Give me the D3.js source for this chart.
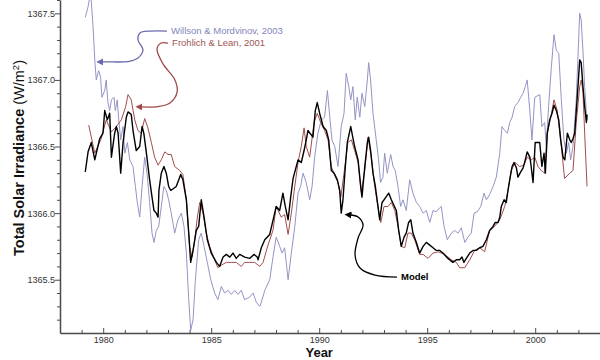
<!DOCTYPE html>
<html><head><meta charset="utf-8">
<script src="https://cdn.jsdelivr.net/npm/d3@7/dist/d3.min.js"></script>
<style>
html,body{margin:0;padding:0;background:#fff;}
svg{display:block;font-family:"Liberation Sans",Arial,sans-serif;}
</style></head>
<body>
<svg id="chart" width="600" height="360"></svg>
<script>
// ---------------- DATA ----------------
const xMajorTicks = [1980, 1985, 1990, 1995, 2000];
const yMajorTicks = [1365.5, 1366.0, 1366.5, 1367.0, 1367.5];
const seriesNames = ["Willson & Mordvinov, 2003", "Frohlich & Lean, 2001", "Model"];

// Model (black) [year, W/m2]
const modelSeries = [
[1979.17,1366.31],[1979.30,1366.46],[1979.45,1366.53],[1979.61,1366.40],[1979.84,1366.56],[1979.99,1366.60],
[1980.07,1366.77],[1980.19,1366.70],[1980.30,1366.75],[1980.38,1366.42],[1980.53,1366.60],[1980.61,1366.65],
[1980.69,1366.60],[1980.81,1366.30],[1980.92,1366.53],[1981.07,1366.72],[1981.15,1366.76],[1981.30,1366.74],
[1981.38,1366.62],[1981.53,1366.47],[1981.69,1366.50],[1981.80,1366.65],[1981.88,1366.60],[1982.00,1366.45],
[1982.15,1366.25],[1982.26,1366.12],[1982.35,1366.02],[1982.46,1366.00],[1982.54,1365.97],[1982.58,1366.17],
[1982.69,1366.30],[1982.81,1366.35],[1982.92,1366.30],[1983.03,1366.20],[1983.13,1366.17],[1983.38,1366.20],
[1983.59,1366.29],[1983.69,1366.25],[1983.85,1366.10],[1983.96,1365.85],[1984.05,1365.63],[1984.16,1365.72],
[1984.31,1365.87],[1984.42,1365.90],[1984.54,1366.10],[1984.67,1365.97],[1984.82,1365.80],[1985.00,1365.70],
[1985.24,1365.63],[1985.39,1365.60],[1985.55,1365.67],[1985.70,1365.69],[1985.86,1365.67],[1986.01,1365.70],
[1986.16,1365.66],[1986.32,1365.69],[1986.55,1365.67],[1986.78,1365.66],[1986.98,1365.69],[1987.13,1365.67],
[1987.17,1365.65],[1987.32,1365.74],[1987.48,1365.80],[1987.71,1365.84],[1988.01,1366.05],[1988.17,1366.02],
[1988.32,1366.15],[1988.43,1366.05],[1988.56,1365.95],[1988.68,1366.12],[1988.79,1366.26],[1989.02,1366.40],
[1989.17,1366.38],[1989.30,1366.47],[1989.40,1366.55],[1989.48,1366.62],[1989.71,1366.57],[1989.82,1366.77],
[1989.91,1366.83],[1990.02,1366.75],[1990.18,1366.65],[1990.33,1366.62],[1990.44,1366.55],[1990.56,1366.32],
[1990.69,1366.30],[1990.84,1366.25],[1990.95,1366.17],[1991.02,1366.00],[1991.10,1366.10],[1991.21,1366.35],
[1991.30,1366.53],[1991.46,1366.65],[1991.64,1366.50],[1991.80,1366.40],[1991.92,1366.20],[1991.98,1366.12],
[1992.11,1366.35],[1992.23,1366.53],[1992.29,1366.57],[1992.38,1366.47],[1992.49,1366.30],[1992.60,1366.20],
[1992.72,1366.05],[1992.80,1365.95],[1992.91,1366.08],[1993.00,1366.10],[1993.22,1366.15],[1993.34,1366.10],
[1993.57,1366.02],[1993.68,1365.87],[1993.80,1365.75],[1993.93,1365.82],[1994.03,1365.85],[1994.14,1365.93],
[1994.24,1365.95],[1994.34,1365.85],[1994.50,1365.78],[1994.65,1365.70],[1994.81,1365.75],[1994.96,1365.78],
[1995.12,1365.76],[1995.27,1365.74],[1995.42,1365.72],[1995.58,1365.72],[1995.73,1365.70],[1995.96,1365.66],
[1996.19,1365.63],[1996.35,1365.65],[1996.50,1365.65],[1996.61,1365.67],[1996.70,1365.63],[1996.81,1365.66],
[1996.97,1365.70],[1997.12,1365.72],[1997.27,1365.72],[1997.43,1365.74],[1997.58,1365.75],[1997.74,1365.80],
[1997.89,1365.87],[1998.05,1365.90],[1998.15,1365.93],[1998.28,1365.93],[1998.36,1365.97],[1998.43,1366.05],
[1998.56,1366.10],[1998.66,1366.08],[1998.74,1366.17],[1998.82,1366.25],[1998.93,1366.35],[1999.02,1366.38],
[1999.13,1366.34],[1999.20,1366.27],[1999.33,1366.31],[1999.44,1366.34],[1999.54,1366.40],[1999.63,1366.46],
[1999.75,1366.42],[1999.79,1366.38],[1999.90,1366.23],[2000.00,1366.53],[2000.21,1366.53],[2000.31,1366.35],
[2000.41,1366.45],[2000.47,1366.30],[2000.56,1366.60],[2000.67,1366.70],[2000.78,1366.75],[2000.87,1366.81],
[2000.98,1366.77],[2001.09,1366.70],[2001.18,1366.55],[2001.29,1366.42],[2001.37,1366.40],[2001.49,1366.60],
[2001.60,1366.55],[2001.67,1366.53],[2001.75,1366.56],[2001.83,1366.60],[2001.98,1366.95],[2002.06,1367.15],
[2002.13,1367.13],[2002.21,1366.95],[2002.29,1366.80],[2002.37,1366.68],[2002.40,1366.74]
];

// Frohlich & Lean, 2001 (red)
const frohlichSeries = [
[1979.33,1366.66],[1979.61,1366.45],[1979.91,1366.56],[1980.14,1366.70],[1980.38,1366.61],[1980.61,1366.65],
[1980.84,1366.70],[1981.04,1366.80],[1981.15,1366.89],[1981.30,1366.85],[1981.46,1366.70],[1981.61,1366.62],
[1981.76,1366.60],[1981.92,1366.71],[1982.07,1366.64],[1982.23,1366.53],[1982.38,1366.42],[1982.54,1366.36],
[1982.69,1366.40],[1982.85,1366.46],[1983.00,1366.44],[1983.15,1366.44],[1983.31,1366.35],[1983.54,1366.32],
[1983.69,1366.29],[1983.85,1366.10],[1984.00,1365.75],[1984.11,1365.67],[1984.24,1365.80],[1984.36,1365.97],
[1984.47,1366.08],[1984.62,1366.00],[1984.77,1365.85],[1984.93,1365.75],[1985.16,1365.65],[1985.31,1365.59],
[1985.47,1365.61],[1985.70,1365.63],[1985.93,1365.63],[1986.16,1365.63],[1986.39,1365.60],[1986.55,1365.63],
[1986.78,1365.63],[1987.01,1365.63],[1987.25,1365.60],[1987.40,1365.63],[1987.63,1365.76],[1987.86,1365.87],
[1988.01,1366.05],[1988.24,1365.97],[1988.40,1365.99],[1988.56,1365.84],[1988.71,1366.00],[1988.87,1366.20],
[1989.02,1366.38],[1989.17,1366.50],[1989.30,1366.64],[1989.40,1366.50],[1989.56,1366.42],[1989.76,1366.68],
[1989.91,1366.75],[1990.07,1366.68],[1990.25,1366.62],[1990.41,1366.55],[1990.56,1366.35],[1990.75,1366.27],
[1990.87,1366.23],[1991.00,1366.12],[1991.15,1366.30],[1991.33,1366.53],[1991.49,1366.55],[1991.64,1366.47],
[1991.80,1366.38],[1991.95,1366.16],[1992.11,1366.32],[1992.26,1366.57],[1992.41,1366.42],[1992.57,1366.20],
[1992.72,1366.05],[1992.85,1365.93],[1993.00,1366.05],[1993.19,1366.05],[1993.34,1366.08],[1993.50,1366.02],
[1993.65,1365.90],[1993.80,1365.75],[1993.96,1365.74],[1994.11,1365.85],[1994.26,1365.85],[1994.42,1365.80],
[1994.65,1365.69],[1994.81,1365.69],[1995.04,1365.66],[1995.27,1365.70],[1995.50,1365.71],[1995.81,1365.69],
[1996.12,1365.65],[1996.35,1365.63],[1996.50,1365.59],[1996.74,1365.59],[1996.97,1365.65],[1997.20,1365.72],
[1997.43,1365.74],[1997.66,1365.71],[1997.89,1365.87],[1998.12,1365.90],[1998.36,1365.95],[1998.59,1366.05],
[1998.74,1366.17],[1998.89,1366.32],[1999.08,1366.38],[1999.28,1366.35],[1999.48,1366.36],[1999.63,1366.42],
[1999.82,1366.40],[1999.98,1366.42],[2000.13,1366.35],[2000.28,1366.32],[2000.44,1366.30],[2000.56,1366.60],
[2000.72,1366.72],[2000.87,1366.85],[2001.02,1366.77],[2001.18,1366.55],[2001.36,1366.26],[2001.60,1366.30],
[2001.75,1366.32],[2001.90,1366.68],[2002.06,1366.95],[2002.13,1367.00],[2002.21,1366.92],[2002.29,1366.60],
[2002.40,1366.20]
];

// Willson & Mordvinov, 2003 (blue)
const willsonSeries = [
[1979.17,1367.47],[1979.30,1367.55],[1979.42,1367.66],[1979.53,1367.40],[1979.61,1367.15],[1979.68,1367.00],
[1979.79,1367.07],[1979.88,1367.02],[1979.94,1366.87],[1980.07,1366.92],[1980.14,1367.00],[1980.22,1366.83],
[1980.30,1366.77],[1980.38,1366.85],[1980.50,1366.87],[1980.56,1366.77],[1980.65,1366.85],[1980.72,1366.70],
[1980.81,1366.55],[1980.92,1366.65],[1981.00,1366.45],[1981.12,1366.53],[1981.23,1366.40],[1981.38,1366.35],
[1981.49,1366.20],[1981.58,1366.08],[1981.69,1365.97],[1981.80,1366.20],[1981.92,1366.42],[1982.03,1366.30],
[1982.15,1366.08],[1982.26,1365.85],[1982.35,1365.78],[1982.46,1365.87],[1982.57,1365.90],[1982.69,1366.05],
[1982.81,1366.20],[1982.92,1366.17],[1983.03,1366.10],[1983.15,1366.00],[1983.31,1365.85],[1983.46,1365.95],
[1983.62,1366.00],[1983.74,1365.90],[1983.85,1365.70],[1983.96,1365.35],[1984.05,1365.12],[1984.16,1365.20],
[1984.26,1365.48],[1984.42,1365.80],[1984.54,1365.85],[1984.67,1365.75],[1984.82,1365.63],[1984.98,1365.50],
[1985.16,1365.40],[1985.31,1365.35],[1985.47,1365.45],[1985.62,1365.40],[1985.78,1365.42],[1985.93,1365.39],
[1986.09,1365.42],[1986.24,1365.39],[1986.39,1365.42],[1986.55,1365.35],[1986.78,1365.37],[1986.94,1365.40],
[1987.09,1365.33],[1987.25,1365.30],[1987.32,1365.33],[1987.48,1365.42],[1987.71,1365.50],[1987.86,1365.67],
[1988.01,1365.82],[1988.17,1365.75],[1988.28,1365.70],[1988.40,1365.74],[1988.56,1365.50],[1988.71,1365.70],
[1988.87,1365.90],[1989.02,1366.15],[1989.14,1366.20],[1989.25,1366.30],[1989.40,1366.23],[1989.56,1366.10],
[1989.67,1366.20],[1989.79,1366.42],[1989.94,1366.60],[1990.10,1366.70],[1990.25,1366.72],[1990.38,1366.92],
[1990.49,1366.72],[1990.59,1366.55],[1990.72,1366.50],[1990.87,1366.35],[1991.02,1366.65],[1991.15,1366.75],
[1991.25,1367.05],[1991.37,1366.95],[1991.46,1366.85],[1991.56,1366.95],[1991.67,1366.70],[1991.76,1366.87],
[1991.88,1366.72],[1991.98,1366.90],[1992.11,1366.80],[1992.23,1367.00],[1992.29,1367.13],[1992.38,1367.00],
[1992.49,1366.75],[1992.64,1366.55],[1992.75,1366.40],[1992.84,1366.23],[1992.95,1366.27],[1993.03,1366.45],
[1993.15,1366.30],[1993.31,1366.44],[1993.42,1366.35],[1993.52,1366.32],[1993.65,1366.20],[1993.77,1366.05],
[1993.88,1366.10],[1994.03,1366.02],[1994.19,1366.25],[1994.34,1366.15],[1994.50,1366.08],[1994.65,1366.05],
[1994.81,1366.00],[1994.96,1366.02],[1995.12,1365.93],[1995.27,1366.02],[1995.42,1366.01],[1995.58,1366.04],
[1995.65,1366.05],[1995.78,1365.90],[1995.93,1365.80],[1996.12,1365.85],[1996.27,1365.87],[1996.43,1365.85],
[1996.58,1365.89],[1996.74,1365.78],[1996.89,1365.82],[1997.04,1365.85],[1997.17,1366.00],[1997.32,1366.01],
[1997.48,1366.05],[1997.63,1366.15],[1997.74,1366.10],[1997.89,1366.14],[1998.05,1366.20],[1998.20,1366.27],
[1998.36,1366.45],[1998.46,1366.65],[1998.59,1366.62],[1998.71,1366.60],[1998.82,1366.68],[1998.93,1366.72],
[1999.05,1366.80],[1999.20,1366.83],[1999.33,1366.87],[1999.44,1366.90],[1999.54,1366.95],[1999.63,1367.00],
[1999.75,1366.77],[1999.85,1366.55],[1999.98,1366.87],[2000.21,1366.89],[2000.31,1366.65],[2000.44,1366.68],
[2000.51,1366.50],[2000.62,1366.80],[2000.75,1367.10],[2000.87,1367.34],[2000.98,1367.22],[2001.09,1367.20],
[2001.21,1366.85],[2001.33,1366.55],[2001.44,1366.45],[2001.55,1366.53],[2001.64,1366.40],[2001.75,1366.50],
[2001.90,1366.85],[2002.06,1367.50],[2002.13,1367.45],[2002.21,1367.22],[2002.29,1366.95],[2002.37,1366.75],
[2002.42,1366.70]
];

// annotation callout paths, in data units [year, W/m2]
const willsonArrow = [[1982.95,1367.367],[1982.17,1367.367],[1981.70,1367.352],[1981.61,1367.30],[1981.84,1367.225],[1981.61,1367.165],[1981.15,1367.138],[1980.41,1367.135],[1979.94,1367.135]];
const frohlichArrow = [[1983.00,1367.277],[1982.68,1367.277],[1982.49,1367.232],[1982.77,1367.12],[1983.32,1367.0],[1983.42,1366.909],[1983.09,1366.827],[1982.54,1366.80],[1981.75,1366.797]];
const modelArrow = [[1993.60,1365.520],[1992.58,1365.535],[1991.89,1365.588],[1991.66,1365.686],[1991.80,1365.813],[1992.03,1365.911],[1991.80,1365.971],[1991.43,1365.986]];
const labelPos = {willson:[1983.14,1367.367], frohlich:[1983.19,1367.277], model:[1993.79,1365.52]};

// ---------------- CHART ----------------
const W = 600, H = 360;
const margin = {left:60, right:0, top:0, bottom:27};
const svg = d3.select("#chart");

const x = d3.scaleLinear().domain([1978, 2003]).range([margin.left, W - margin.right]);
const y = d3.scaleLinear().domain([1365.1, 1367.6]).range([H - margin.bottom, margin.top]);

const colBlue = "#9494c6", colRed = "#a24c4c", colAxis = "#4a4a4a";

svg.append("defs").append("clipPath").attr("id","plotclip")
  .append("rect").attr("x", margin.left).attr("y", margin.top)
  .attr("width", W - margin.left - margin.right).attr("height", H - margin.top - margin.bottom);

const mk = (id, color) => {
  svg.select("defs").append("marker").attr("id", id)
    .attr("viewBox","0 0 10 10").attr("refX", 2).attr("refY", 5)
    .attr("markerWidth", 7).attr("markerHeight", 7).attr("orient","auto")
    .attr("markerUnits","userSpaceOnUse")
    .append("path").attr("d","M0,0 L10,5 L0,10 Z").attr("fill", color);
};
mk("arW", "#6a6aae"); mk("arF", "#a04848"); mk("arM", "#000");

const line = d3.line().x(d => x(d[0])).y(d => y(d[1]));
const g = svg.append("g").attr("clip-path","url(#plotclip)");
g.append("path").datum(willsonSeries).attr("d", line).attr("fill","none").attr("stroke", colBlue).attr("stroke-width", 1);
g.append("path").datum(frohlichSeries).attr("d", line).attr("fill","none").attr("stroke", colRed).attr("stroke-width", 1);
g.append("path").datum(modelSeries).attr("d", line).attr("fill","none").attr("stroke", "#000").attr("stroke-width", 1.4).attr("stroke-linejoin","round");

// axes
const yMinor = d3.range(1365.2, 1367.61, 0.1).map(v => +v.toFixed(1)).filter(v => !yMajorTicks.includes(v));
const xMinor = d3.range(1979, 2004, 1).filter(v => !xMajorTicks.includes(v));

const yAxisMinor = svg.append("g").attr("transform", `translate(${margin.left},0)`)
  .call(d3.axisLeft(y).tickValues(yMinor).tickSize(3).tickFormat(""));
const yAxis = svg.append("g").attr("transform", `translate(${margin.left},0)`)
  .call(d3.axisLeft(y).tickValues(yMajorTicks).tickSize(5).tickSizeOuter(0).tickPadding(0).tickFormat(d3.format(".1f")));
const xAxisMinor = svg.append("g").attr("transform", `translate(0,${H - margin.bottom})`)
  .call(d3.axisBottom(x).tickValues(xMinor).tickSize(-3).tickFormat(""));
const xAxis = svg.append("g").attr("transform", `translate(0,${H - margin.bottom})`)
  .call(d3.axisBottom(x).tickValues(xMajorTicks).tickSize(-5).tickSizeOuter(0).tickPadding(4).tickFormat(d3.format("d")));

[yAxisMinor, xAxisMinor].forEach(a => a.select(".domain").remove());
[yAxis, yAxisMinor, xAxis, xAxisMinor].forEach(a => {
  a.selectAll("line").attr("stroke", colAxis).attr("stroke-width", 1);
  a.select(".domain").attr("stroke", colAxis).attr("stroke-width", 1.5);
  a.selectAll("text").attr("fill", "#333").style("font-size","9px").style("font-family","'Liberation Sans',Arial,sans-serif");
});

// axis titles
svg.append("text").attr("x", x(1990)).attr("y", 357)
  .attr("text-anchor","middle").style("font-weight","bold").style("font-size","13px").attr("fill","#111").text("Year");

const yt = svg.append("text").attr("transform", `translate(24,${158}) rotate(-90)`)
  .attr("text-anchor","middle").style("font-size","14.5px").attr("fill","#111");
yt.append("tspan").style("font-weight","bold").text("Total Solar Irradiance");
yt.append("tspan").text("\u00a0(W/m");
yt.append("tspan").attr("dy","-5").style("font-size","9.5px").text("2");
yt.append("tspan").attr("dy","5").text(")");

// annotations
const cl = d3.line().x(d => x(d[0])).y(d => y(d[1])).curve(d3.curveCatmullRom.alpha(0.5));
svg.append("path").datum(willsonArrow).attr("d", cl).attr("fill","none").attr("stroke","#6a6aae").attr("stroke-width",1.3).attr("marker-end","url(#arW)");
svg.append("path").datum(frohlichArrow).attr("d", cl).attr("fill","none").attr("stroke","#a04848").attr("stroke-width",1.3).attr("marker-end","url(#arF)");
svg.append("path").datum(modelArrow).attr("d", cl).attr("fill","none").attr("stroke","#000").attr("stroke-width",1.3).attr("marker-end","url(#arM)");

svg.append("text").attr("x", x(labelPos.willson[0])).attr("y", y(labelPos.willson[1])).attr("dy","0.35em")
  .style("font-size","9.5px").attr("fill","#8484bc").text(seriesNames[0]);
svg.append("text").attr("x", x(labelPos.frohlich[0])).attr("y", y(labelPos.frohlich[1])).attr("dy","0.35em")
  .style("font-size","9.5px").attr("fill","#a05555").text(seriesNames[1]);
svg.append("text").attr("x", x(labelPos.model[0])).attr("y", y(labelPos.model[1])).attr("dy","0.35em")
  .style("font-size","9.5px").style("font-weight","bold").attr("fill","#000").text(seriesNames[2]);
</script>
</body></html>
